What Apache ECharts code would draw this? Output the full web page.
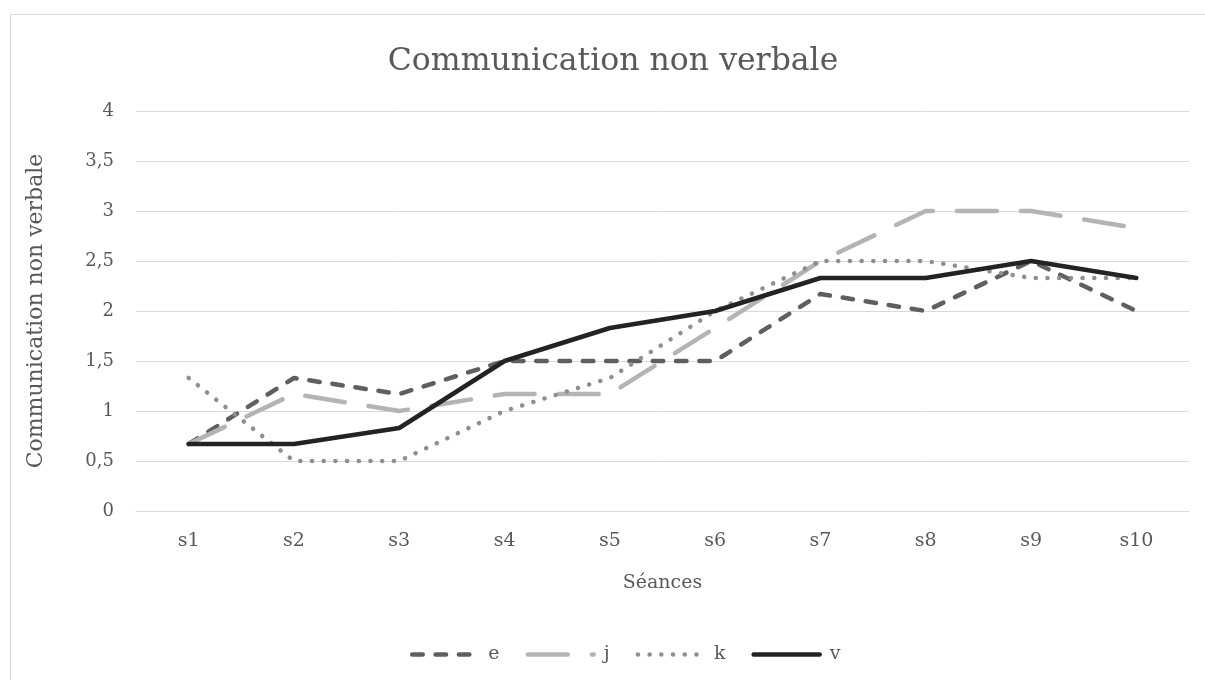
<!DOCTYPE html>
<html>
<head>
<meta charset="utf-8">
<script src="https://cdn.jsdelivr.net/npm/echarts@6/dist/echarts.min.js"></script>
<style>
html, body { margin: 0; padding: 0; background: #fff; }
#main { width: 1205px; height: 680px; }
</style>
</head>
<body>
<div id="main"></div>
<script>
// données
var seances = ['s1', 's2', 's3', 's4', 's5', 's6', 's7', 's8', 's9', 's10'];
var serieE = [0.67, 1.33, 1.17, 1.5, 1.5, 1.5, 2.17, 2.0, 2.5, 2.0];
var serieJ = [0.67, 1.17, 1.0, 1.17, 1.17, 1.83, 2.5, 3.0, 3.0, 2.83];
var serieK = [1.33, 0.5, 0.5, 1.0, 1.33, 2.0, 2.5, 2.5, 2.33, 2.33];
var serieV = [0.67, 0.67, 0.83, 1.5, 1.83, 2.0, 2.33, 2.33, 2.5, 2.33];

var police = 'DejaVu Serif';
var gris = '#595959';

var myChart = echarts.init(document.getElementById('main'));

function ligne(nom, data, couleur, tirets) {
    return {
        name: nom,
        type: 'line',
        data: data,
        symbol: 'none',
        lineStyle: {
            color: couleur,
            width: 4.5,
            type: tirets,
            cap: 'round',
            join: 'round'
        },
        itemStyle: { color: couleur }
    };
}

var option = {
    animation: false,
    backgroundColor: '#fff',
    title: {
        text: 'Communication non verbale',
        left: 608,
        textAlign: 'center',
        top: 41,
        textStyle: {
            fontFamily: police,
            fontSize: 31.5,
            fontWeight: 'normal',
            color: gris
        }
    },
    graphic: [{
        type: 'rect',
        z: -1,
        shape: { x: 10.5, y: 14.5, width: 1400, height: 1000 },
        style: { fill: 'none', stroke: '#d9d9d9', lineWidth: 1 }
    }],
    legend: {
        bottom: 11,
        left: 405,
        itemWidth: 66,
        itemHeight: 12,
        itemGap: 26,
        itemStyle: { opacity: 0 },
        lineStyle: { width: 4.5 },
        textStyle: { fontFamily: police, fontSize: 19, color: gris, padding: [0, 0, 0, 5] },
        data: ['e', 'j', 'k', 'v']
    },
    grid: {
        left: 136,
        right: 16,
        top: 111,
        bottom: 169
    },
    xAxis: {
        type: 'category',
        data: seances,
        name: 'Séances',
        nameLocation: 'middle',
        nameGap: 63,
        nameTextStyle: { fontFamily: police, fontSize: 19, color: gris },
        axisLine: { lineStyle: { color: '#d9d9d9' } },
        axisTick: { show: false },
        axisLabel: { margin: 21, fontFamily: police, fontSize: 19, color: gris }
    },
    yAxis: {
        type: 'value',
        min: 0,
        max: 4,
        interval: 0.5,
        name: 'Communication non verbale',
        nameLocation: 'middle',
        nameRotate: 90,
        nameGap: 89,
        nameTextStyle: { fontFamily: police, fontSize: 22, color: gris },
        axisLine: { show: false },
        axisTick: { show: false },
        splitLine: { lineStyle: { color: '#d9d9d9', width: 1 } },
        axisLabel: {
            margin: 22,
            fontFamily: police,
            fontSize: 18,
            color: gris,
            formatter: function (v) { return String(v).replace('.', ','); }
        }
    },
    series: [
        ligne('e', serieE, '#5f5f5f', [10.5, 12.8]),
        ligne('j', serieJ, '#b4b4b4', [40, 24]),
        ligne('k', serieK, '#8f8f8f', [0.1, 11.6]),
        ligne('v', serieV, '#232323', 'solid')
    ]
};
myChart.setOption(option);
</script>
</body>
</html>
